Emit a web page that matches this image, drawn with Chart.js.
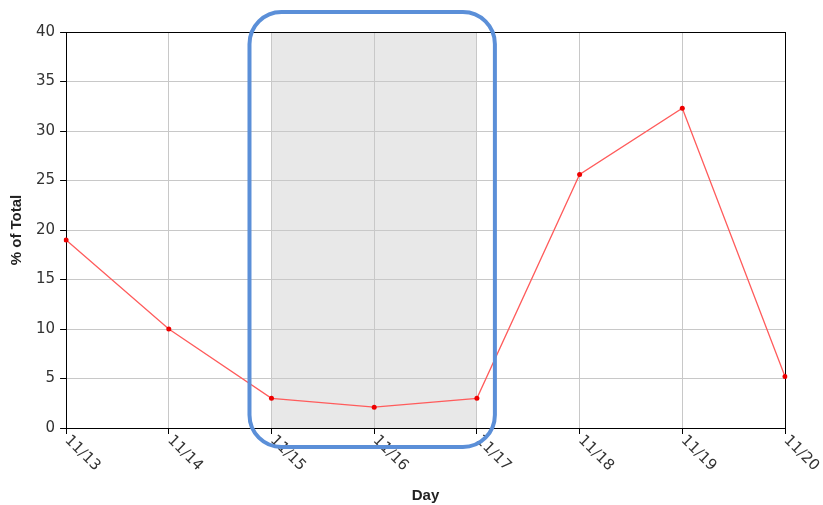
<!DOCTYPE html>
<html>
<head>
<meta charset="utf-8">
<script src="https://cdn.jsdelivr.net/npm/chart.js@4.4.0/dist/chart.umd.min.js"></script>
<style>
  html, body { margin: 0; padding: 0; background: #fff; }
  #wrap { width: 823px; height: 505px; position: relative; }
</style>
</head>
<body>
<div id="wrap"><canvas id="myChart"></canvas></div>
<script>
// data
const days = ['11/13', '11/14', '11/15', '11/16', '11/17', '11/18', '11/19', '11/20'];
const pctOfTotal = [19.0, 10.0, 3.0, 2.1, 3.0, 25.6, 32.3, 5.2];
const yTicks = [0, 5, 10, 15, 20, 25, 30, 35, 40];
// shaded / highlighted range (by category)
const bandFrom = '11/15';
const bandTo = '11/17';

const tickFont = '15px "DejaVu Sans"';

// gray band behind the grid
const bandPlugin = {
  id: 'band',
  beforeDraw(chart) {
    const x = chart.scales.x, area = chart.chartArea, ctx = chart.ctx;
    const x0 = x.getPixelForValue(days.indexOf(bandFrom));
    const x1 = x.getPixelForValue(days.indexOf(bandTo));
    ctx.save();
    ctx.fillStyle = '#e8e8e8';
    ctx.fillRect(x0, area.top, x1 - x0, area.bottom - area.top);
    ctx.restore();
  }
};

// rotated day labels + blue rounded highlight box
const overlayPlugin = {
  id: 'overlay',
  afterDraw(chart) {
    const x = chart.scales.x, area = chart.chartArea, ctx = chart.ctx;
    ctx.save();
    ctx.font = tickFont;
    ctx.fillStyle = '#333';
    ctx.textAlign = 'left';
    ctx.textBaseline = 'middle';
    days.forEach((d, i) => {
      ctx.save();
      ctx.translate(x.getPixelForTick(i) + 1, area.bottom + 10);
      ctx.rotate(Math.PI / 4);
      ctx.fillText(d, 0, 0);
      ctx.restore();
    });

    const x0 = x.getPixelForValue(days.indexOf(bandFrom)) - 22;
    const x1 = x.getPixelForValue(days.indexOf(bandTo)) + 18;
    const y0 = area.top - 20, y1 = area.bottom + 19;
    ctx.strokeStyle = '#5b8fd8';
    ctx.lineWidth = 4;
    ctx.beginPath();
    ctx.roundRect(x0, y0, x1 - x0, y1 - y0, 32);
    ctx.stroke();
    ctx.restore();
  }
};

new Chart('myChart', {
  type: 'line',
  data: {
    labels: days,
    datasets: [{
      data: pctOfTotal,
      borderColor: '#ff5c5c',
      borderWidth: 1.3,
      pointRadius: 2.5,
      pointHoverRadius: 2.5,
      pointBackgroundColor: '#ee0000',
      pointBorderWidth: 0,
      tension: 0,
      fill: false
    }]
  },
  options: {
    responsive: true,
    maintainAspectRatio: false,
    animation: false,
    layout: { padding: { top: 32, right: 38, left: 0, bottom: 0 } },
    plugins: { legend: { display: false }, tooltip: { enabled: false } },
    scales: {
      x: {
        offset: false,
        grid: {
          color: (c) => c.index === days.length - 1 ? '#000' : '#c8c8c8',
          tickColor: '#000',
          tickLength: 6
        },
        border: { color: '#000', width: 1 },
        ticks: { display: false },
        title: {
          display: true,
          text: 'Day',
          color: '#222',
          font: { family: 'Liberation Sans', size: 15, weight: 'bold' },
          padding: { top: 53, bottom: 0 }
        }
      },
      y: {
        min: 0,
        max: 40,
        afterBuildTicks: (s) => { s.ticks = yTicks.map(v => ({ value: v })); },
        grid: {
          color: (c) => c.tick && c.tick.value === 40 ? '#000' : '#c8c8c8',
          tickColor: '#000',
          tickLength: 6
        },
        border: { color: '#000', width: 1 },
        ticks: {
          color: '#333',
          padding: 5,
          font: { family: 'DejaVu Sans', size: 15 }
        },
        title: {
          display: true,
          text: '% of Total',
          color: '#222',
          font: { family: 'Liberation Sans', size: 15, weight: 'bold' },
          padding: { top: 8, bottom: 5 }
        }
      }
    }
  },
  plugins: [bandPlugin, overlayPlugin]
});
</script>
</body>
</html>
